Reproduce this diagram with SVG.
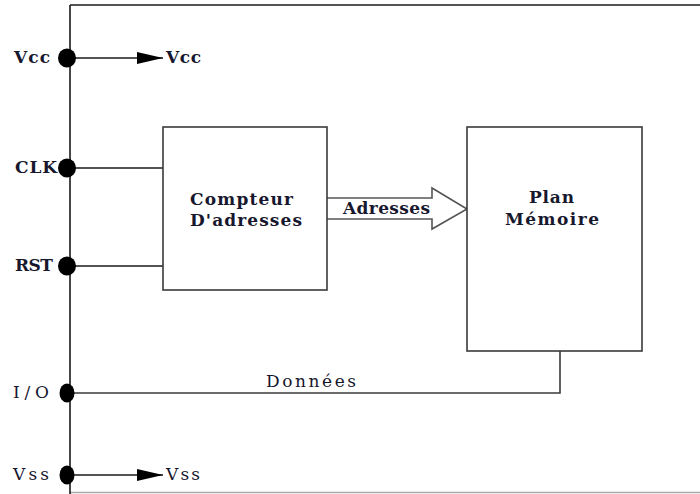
<svg xmlns="http://www.w3.org/2000/svg" width="700" height="494" viewBox="0 0 700 494">
<style>
.t{font-family:"DejaVu Serif","Liberation Serif",serif;font-size:17px;font-weight:bold;fill:#17172e}
.n{font-weight:normal}
.ln{stroke:#1a1a1a;stroke-width:1.6;fill:none}
.box{stroke:#3a3a3a;stroke-width:1.6;fill:#fff}
.dot{fill:#000}
</style>
<defs>
<marker id="ah" markerWidth="26" markerHeight="12" refX="26" refY="6" orient="auto" markerUnits="userSpaceOnUse">
<path d="M0,0 L26,6 L0,12 Z" fill="#000"/>
</marker>
</defs>
<rect width="700" height="494" fill="#fff"/>
<g id="frame">
<path d="M70,5 H700" class="ln"/>
<path d="M70,492.5 H700" stroke="#aaa" stroke-width="1.6"/>
<path d="M70,5 V494" class="ln"/>
</g>
<g id="connectors">
<path d="M70,58 H163" class="ln" marker-end="url(#ah)"/>
<path d="M70,168 H163" class="ln"/>
<path d="M70,266 H163" class="ln"/>
<path d="M327,198 H432 V188 L467,209 L432,229 V219 H327" stroke="#555" stroke-width="1.6" fill="#fff"/>
<path d="M70,393 H560 V351" stroke="#3a3a3a" stroke-width="1.6" fill="none"/>
<path d="M70,475 H163" class="ln" marker-end="url(#ah)"/>
<text class="t" x="343" y="214" textLength="87" lengthAdjust="spacing">Adresses</text>
<text class="t n" x="266" y="387" textLength="90" lengthAdjust="spacing">Données</text>
</g>
<g id="pin-vcc">
<ellipse class="dot" cx="67" cy="58" rx="9" ry="9.5"/>
<text class="t" x="14" y="63" textLength="36" lengthAdjust="spacing">Vcc</text>
<text class="t" x="166" y="63" textLength="35" lengthAdjust="spacing">Vcc</text>
</g>
<g id="pin-clk">
<ellipse class="dot" cx="67" cy="168" rx="9" ry="9.5"/>
<text class="t" x="15" y="173" textLength="42" lengthAdjust="spacing">CLK</text>
</g>
<g id="pin-rst">
<ellipse class="dot" cx="67" cy="266" rx="9" ry="9.5"/>
<text class="t" x="15" y="271" textLength="38" lengthAdjust="spacing">RST</text>
</g>
<g id="pin-io">
<ellipse class="dot" cx="67" cy="393" rx="7.5" ry="9.5"/>
<text class="t n" x="13" y="398" textLength="36" lengthAdjust="spacing">I/O</text>
</g>
<g id="pin-vss">
<ellipse class="dot" cx="67" cy="475" rx="7.5" ry="9.5"/>
<text class="t n" x="13" y="480" textLength="36" lengthAdjust="spacing">Vss</text>
<text class="t n" x="166" y="480" textLength="34" lengthAdjust="spacing">Vss</text>
</g>
<g id="compteur">
<rect class="box" x="163" y="127" width="164" height="163"/>
<text class="t" x="190" y="205" textLength="103" lengthAdjust="spacing">Compteur</text>
<text class="t" x="190" y="226" textLength="112" lengthAdjust="spacing">D'adresses</text>
</g>
<g id="plan-memoire">
<rect class="box" x="467" y="127" width="175" height="224" stroke="#444"/>
<text class="t" x="529" y="203" textLength="45" lengthAdjust="spacing">Plan</text>
<text class="t" x="505" y="225" textLength="94" lengthAdjust="spacing">Mémoire</text>
</g>
</svg>
